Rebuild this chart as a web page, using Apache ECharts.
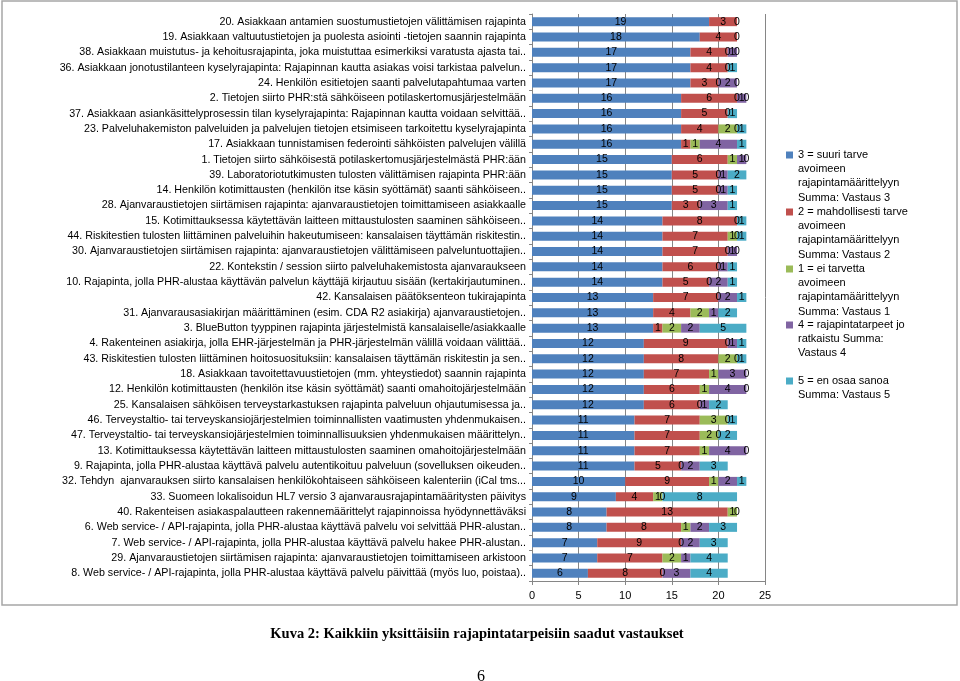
<!DOCTYPE html>
<html>
<head>
<meta charset="utf-8">
<script src="https://cdn.jsdelivr.net/npm/echarts@6/dist/echarts.min.js"></script>
<style>html,body{margin:0;padding:0;background:#fff;}#chart{width:960px;height:681px;}</style>
</head>
<body>
<div id="chart"></div>
<script>
var categories = [
  "20. Asiakkaan antamien suostumustietojen välittämisen rajapinta",
  "19. Asiakkaan valtuutustietojen ja puolesta asiointi -tietojen saannin rajapinta",
  "38. Asiakkaan muistutus- ja kehoitusrajapinta, joka muistuttaa esimerkiksi varatusta ajasta tai..",
  "36. Asiakkaan jonotustilanteen kyselyrajapinta: Rajapinnan kautta asiakas voisi tarkistaa palvelun..",
  "24. Henkilön esitietojen saanti palvelutapahtumaa varten",
  "2. Tietojen siirto PHR:stä sähköiseen potilaskertomusjärjestelmään",
  "37. Asiakkaan asiankäsittelyprosessin tilan kyselyrajapinta: Rajapinnan kautta voidaan selvittää..",
  "23. Palveluhakemiston palveluiden ja palvelujen tietojen etsimiseen tarkoitettu kyselyrajapinta",
  "17. Asiakkaan tunnistamisen federointi sähköisten palvelujen välillä",
  "1. Tietojen siirto sähköisestä potilaskertomusjärjestelmästä PHR:ään",
  "39. Laboratoriotutkimusten tulosten välittämisen rajapinta PHR:ään",
  "14. Henkilön kotimittausten (henkilön itse käsin syöttämät) saanti sähköiseen..",
  "28. Ajanvaraustietojen siirtämisen rajapinta: ajanvaraustietojen toimittamiseen asiakkaalle",
  "15. Kotimittauksessa käytettävän laitteen mittaustulosten saaminen sähköiseen..",
  "44. Riskitestien tulosten liittäminen palveluihin hakeutumiseen: kansalaisen täyttämän riskitestin..",
  "30. Ajanvaraustietojen siirtämisen rajapinta: ajanvaraustietojen välittämiseen palveluntuottajien..",
  "22. Kontekstin / session siirto palveluhakemistosta ajanvaraukseen",
  "10. Rajapinta, jolla PHR-alustaa käyttävän palvelun käyttäjä kirjautuu sisään (kertakirjautuminen..",
  "42. Kansalaisen päätöksenteon tukirajapinta",
  "31. Ajanvarausasiakirjan määrittäminen (esim. CDA R2 asiakirja) ajanvaraustietojen..",
  "3. BlueButton tyyppinen rajapinta järjestelmistä kansalaiselle/asiakkaalle",
  "4. Rakenteinen asiakirja, jolla EHR-järjestelmän ja PHR-järjestelmän välillä voidaan välittää..",
  "43. Riskitestien tulosten liittäminen hoitosuosituksiin: kansalaisen täyttämän riskitestin ja sen..",
  "18. Asiakkaan tavoitettavuustietojen (mm. yhteystiedot) saannin rajapinta",
  "12. Henkilön kotimittausten (henkilön itse käsin syöttämät) saanti omahoitojärjestelmään",
  "25. Kansalaisen sähköisen terveystarkastuksen rajapinta palveluun ohjautumisessa ja..",
  "46. Terveystaltio- tai terveyskansiojärjestelmien toiminnallisten vaatimusten yhdenmukaisen..",
  "47. Terveystaltio- tai terveyskansiojärjestelmien toiminnallisuuksien yhdenmukaisen määrittelyn..",
  "13. Kotimittauksessa käytettävän laitteen mittaustulosten saaminen omahoitojärjestelmään",
  "9. Rajapinta, jolla PHR-alustaa käyttävä palvelu autentikoituu palveluun (sovelluksen oikeuden..",
  "32. Tehdyn  ajanvarauksen siirto kansalaisen henkilökohtaiseen sähköiseen kalenteriin (iCal tms...",
  "33. Suomeen lokalisoidun HL7 versio 3 ajanvarausrajapintamääritysten päivitys",
  "40. Rakenteisen asiakaspalautteen rakennemäärittelyt rajapinnoissa hyödynnettäväksi",
  "6. Web service- / API-rajapinta, jolla PHR-alustaa käyttävä palvelu voi selvittää PHR-alustan..",
  "7. Web service- / API-rajapinta, jolla PHR-alustaa käyttävä palvelu hakee PHR-alustan..",
  "29. Ajanvaraustietojen siirtämisen rajapinta: ajanvaraustietojen toimittamiseen arkistoon",
  "8. Web service- / API-rajapinta, jolla PHR-alustaa käyttävä palvelu päivittää (myös luo, poistaa).."
];

var vastaus3 = [19,18,17,17,17,16,16,16,16,15,15,15,15,14,14,14,14,14,13,13,13,12,12,12,12,12,11,11,11,11,10,9,8,8,7,7,6];
var vastaus2 = [3,4,4,4,3,6,5,4,1,6,5,5,3,8,7,7,6,5,7,4,1,9,8,7,6,6,7,7,7,5,9,4,13,8,9,7,8];
var vastaus1 = [0,0,0,0,0,0,0,2,1,1,0,0,0,0,1,0,0,0,0,2,2,0,2,1,1,0,3,2,1,0,1,1,1,1,0,2,0];
var vastaus4 = [null,null,1,null,2,1,null,0,4,1,1,1,3,null,0,1,1,2,2,1,2,1,0,3,4,1,0,0,4,2,2,0,0,2,2,1,3];
var vastaus5 = [null,null,0,1,0,0,1,1,1,0,2,1,1,1,1,0,1,1,1,2,5,1,1,0,0,2,1,2,0,3,1,8,null,3,3,4,4];

var seriesNames = [
  "3 = suuri tarve avoimeen rajapintamäärittelyyn Summa: Vastaus 3",
  "2 = mahdollisesti tarve avoimeen rajapintamäärittelyyn Summa: Vastaus 2",
  "1 = ei tarvetta avoimeen rajapintamäärittelyyn Summa: Vastaus 1",
  "4 = rajapintatarpeet jo ratkaistu Summa: Vastaus 4",
  "5 = en osaa sanoa Summa: Vastaus 5"
];
var legendLines = [
  ["3 = suuri tarve", "avoimeen", "rajapintamäärittelyyn", "Summa: Vastaus 3"],
  ["2 = mahdollisesti tarve", "avoimeen", "rajapintamäärittelyyn", "Summa: Vastaus 2"],
  ["1 = ei tarvetta", "avoimeen", "rajapintamäärittelyyn", "Summa: Vastaus 1"],
  ["4 = rajapintatarpeet jo", "ratkaistu Summa:", "Vastaus 4"],
  ["5 = en osaa sanoa", "Summa: Vastaus 5"]
];
var xTicks = [0, 5, 10, 15, 20, 25];
var colors = ["#4F81BD", "#C0504D", "#9BBB59", "#8064A2", "#4BACC6"];
var allData = [vastaus3, vastaus2, vastaus1, vastaus4, vastaus5];

var chart = echarts.init(document.getElementById('chart'), null, {renderer: 'canvas'});

var LH = 14.2;
var iconCenters = [155, 212, 269, 325, 381];
var legends = seriesNames.map(function (name, i) {
  var n = legendLines[i].length;
  var lead = '';
  for (var k = 0; k < n - 1; k++) { lead += '\n'; }
  return {
    show: true,
    orient: 'vertical',
    left: 786,
    top: iconCenters[i] - (2 * n - 1) * LH / 2,
    padding: 0,
    itemWidth: 7,
    itemHeight: 7,
    icon: 'rect',
    selectedMode: false,
    data: [name],
    formatter: function () { return lead + legendLines[i].join('\n'); },
    textStyle: {
      fontFamily: 'Liberation Sans, Arial, sans-serif',
      fontSize: 11,
      color: '#000',
      lineHeight: LH
    }
  };
});

var series = seriesNames.map(function (name, i) {
  return {
    name: name,
    type: 'bar',
    stack: 'total',
    barWidth: 9,
    data: allData[i],
    itemStyle: {color: colors[i]},
    label: {
      show: true,
      position: 'inside',
      color: '#000',
      fontFamily: 'Liberation Sans Narrow, Arial Narrow, sans-serif',
      fontSize: 10.5,
      formatter: function (p) { return p.value == null ? '' : String(p.value); }
    },
    emphasis: {disabled: true},
    animation: false
  };
});

var option = {
  animation: false,
  color: colors,
  title: [
    {
      text: 'Kuva 2: Kaikkiin yksittäisiin rajapintatarpeisiin saadut vastaukset',
      left: 472, top: 622, textAlign: 'center',
      textStyle: {fontFamily: 'Liberation Serif, Times New Roman, serif', fontWeight: 'bold', fontSize: 14.5, color: '#000'}
    },
    {
      text: '6',
      left: 476, top: 664, textAlign: 'center',
      textStyle: {fontFamily: 'Liberation Serif, Times New Roman, serif', fontWeight: 'normal', fontSize: 16, color: '#000'}
    }
  ],
  legend: legends,
  grid: {left: 532, right: 195, top: 14, bottom: 100, containLabel: false},
  xAxis: {
    type: 'value',
    min: 0, max: 25, interval: 5,
    axisLine: {show: true, lineStyle: {color: '#868686', width: 1}},
    axisTick: {show: true, length: 4, lineStyle: {color: '#868686'}},
    splitLine: {show: true, lineStyle: {color: '#868686', width: 1}},
    axisLabel: {
      color: '#000', fontFamily: 'Liberation Sans, Arial, sans-serif', fontSize: 11, margin: 9,
      formatter: function (v) { return xTicks.indexOf(v) >= 0 ? String(v) : ''; }
    }
  },
  yAxis: {
    type: 'category',
    inverse: true,
    data: categories,
    axisLine: {show: true, lineStyle: {color: '#868686', width: 1}},
    axisTick: {show: true, length: 3, lineStyle: {color: '#868686'}},
    axisLabel: {
      color: '#000', fontFamily: 'Liberation Sans Narrow, Arial Narrow, sans-serif', fontSize: 10.7, margin: 6, interval: 0
    }
  },
  graphic: [
    {
      type: 'rect', silent: true, z: -1,
      shape: {x: 2, y: 1, width: 955, height: 604},
      style: {fill: 'none', stroke: '#a6a6a6', lineWidth: 1.5}
    }
  ],
  series: series
};
chart.setOption(option);
</script>
</body>
</html>
